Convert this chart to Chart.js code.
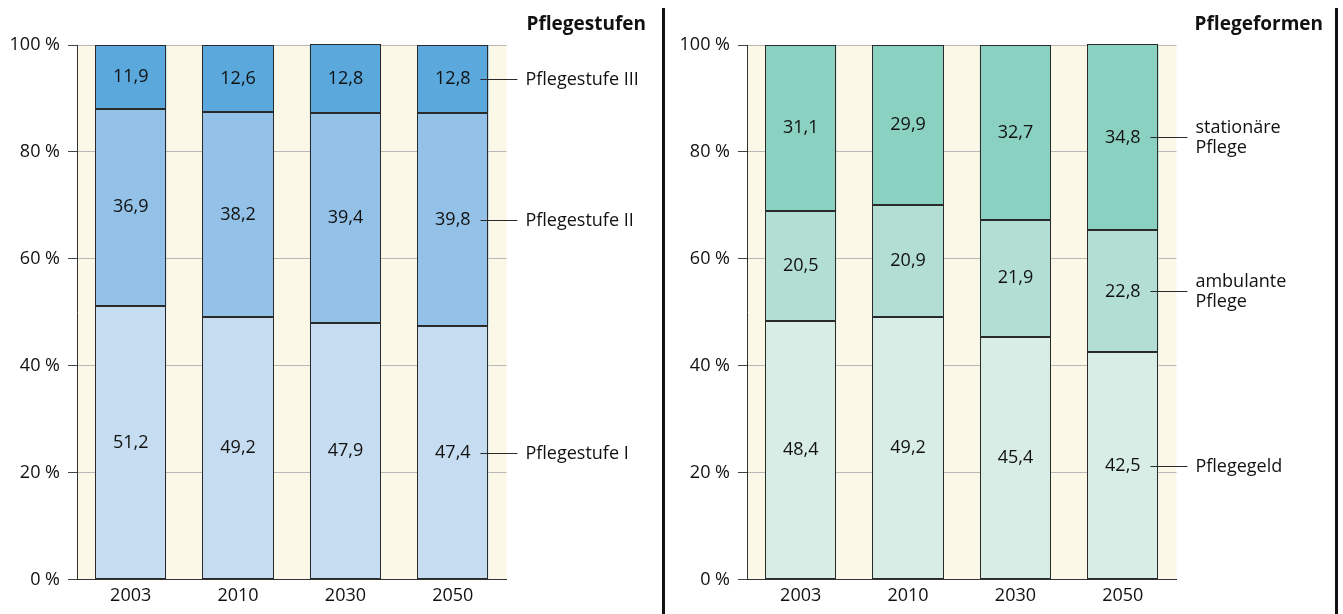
<!DOCTYPE html>
<html>
<head>
<meta charset="utf-8">
<script src="https://cdn.jsdelivr.net/npm/chart.js@4.4.1/dist/chart.umd.min.js"></script>
<style>
  body { margin: 0; background: #fff; }
  #wrap { position: relative; width: 1343px; height: 614px; }
  .box { position: absolute; top: 0; height: 614px; }
  .divider { position: absolute; top: 8px; bottom: 0; width: 3px; background: #111; }
</style>
</head>
<body>
<div id="wrap">
  <div class="box" style="left:0;width:663px"><canvas id="stufen"></canvas></div>
  <div class="box" style="left:663px;width:680px"><canvas id="formen"></canvas></div>
  <div class="divider" style="left:662px"></div>
  <div class="divider" style="left:1335px"></div>
</div>
<script>
// data
const years = ['2003', '2010', '2030', '2050'];

const stufeI = [51.2, 49.2, 47.9, 47.4];
const stufeII = [36.9, 38.2, 39.4, 39.8];
const stufeIII = [11.9, 12.6, 12.8, 12.8];
const stufenNames = [['Pflegestufe I'], ['Pflegestufe II'], ['Pflegestufe III']];

const pflegegeld = [48.4, 49.2, 45.4, 42.5];
const ambulant = [20.5, 20.9, 21.9, 22.8];
const stationaer = [31.1, 29.9, 32.7, 34.8];
const formenNames = [['Pflegegeld'], ['ambulante', 'Pflege'], ['stationäre', 'Pflege']];

const FONT = '"Open Sans", "Noto Sans", sans-serif';

// cream plot background
const creamBg = {
    id: 'creamBg',
    beforeDraw(chart) {
        const a = chart.chartArea, c = chart.ctx;
        c.save();
        c.fillStyle = '#fcf8e8';
        c.fillRect(a.left, a.top, a.right - a.left, a.bottom - a.top);
        c.restore();
    }
};

// crisp outlines, numbers inside the segments, series names on the right, title
const labels = {
    id: 'labels',
    afterDatasetsDraw(chart, args, opts) {
        const c = chart.ctx;
        c.save();
        c.strokeStyle = '#2a2a2a';
        c.lineWidth = 1;
        chart.data.datasets.forEach((ds, i) => {
            chart.getDatasetMeta(i).data.forEach((bar) => {
                const l = Math.round(bar.x - bar.width / 2) + 0.5;
                const r = Math.round(bar.x + bar.width / 2) - 0.5;
                const t = Math.round(bar.y) + 0.5;
                const b = Math.round(bar.base) - 0.5;
                c.strokeRect(l, t, r - l, b - t);
            });
        });
        c.font = '18px ' + FONT;
        c.fillStyle = '#111';
        c.textBaseline = 'middle';
        chart.data.datasets.forEach((ds, i) => {
            const meta = chart.getDatasetMeta(i);
            meta.data.forEach((bar, j) => {
                const y = (bar.y + bar.base) / 2;
                c.textAlign = 'center';
                c.fillText(ds.data[j].toFixed(1).replace('.', ','), bar.x, y);
            });
            const last = meta.data[meta.data.length - 1];
            const right = last.x + last.width / 2;
            const y = Math.round((last.y + last.base) / 2) + 0.5;
            c.beginPath();
            c.moveTo(right - 8, y);
            c.lineTo(right + 29, y);
            c.stroke();
            c.textAlign = 'left';
            const lines = opts.names[i];
            lines.forEach((t, k) => {
                c.fillText(t, right + 37, y + (k - (lines.length - 1) / 2) * 20);
            });
        });
        c.font = 'bold 19px ' + FONT;
        c.textAlign = 'right';
        c.fillText(opts.title, opts.titleX, 25);
        c.restore();
    }
};

function makeChart(id, sets, colors, names, title, titleX, padRight, yWidth) {
    const ctx = document.getElementById(id).getContext('2d');
    return new Chart(ctx, {
        type: 'bar',
        data: {
            labels: years,
            datasets: sets.map((d, i) => ({
                data: d,
                backgroundColor: colors[i],
                borderWidth: 0,
                categoryPercentage: 1,
                barPercentage: 0.663
            }))
        },
        options: {
            responsive: true,
            maintainAspectRatio: false,
            animation: false,
            layout: { padding: { top: 45, right: padRight, left: 0, bottom: 0 } },
            plugins: {
                legend: { display: false },
                tooltip: { enabled: false },
                labels: { names: names, title: title, titleX: titleX }
            },
            scales: {
                x: {
                    stacked: true,
                    grid: { display: false, drawTicks: false },
                    border: { display: true, color: '#333', width: 1 },
                    ticks: { color: '#111', font: { family: FONT, size: 18 }, padding: 6 },
                    afterFit(s) { s.height = 34.5; }
                },
                y: {
                    stacked: true,
                    min: 0,
                    max: 100,
                    grid: {
                        color: (c) => c.tick && c.tick.value === 0 ? '#333' : '#b8b8b8',
                        tickColor: '#444',
                        tickLength: 9,
                        lineWidth: 1
                    },
                    border: { display: true, color: '#333', width: 1 },
                    ticks: {
                        stepSize: 20,
                        color: '#111',
                        padding: 8,
                        font: { family: FONT, size: 18 },
                        callback: (v) => v + ' %'
                    },
                    afterFit(s) { s.width = yWidth; }
                }
            }
        },
        plugins: [creamBg, labels]
    });
}

makeChart('stufen', [stufeI, stufeII, stufeIII],
    ['#c6ddf1', '#93c1e7', '#5aa8dc'],
    stufenNames, 'Pflegestufen', 646, 156.5, 77);

makeChart('formen', [pflegegeld, ambulant, stationaer],
    ['#d8ede6', '#b3ded3', '#8ad1c1'],
    formenNames, 'Pflegeformen', 660, 166.5, 84);
</script>
</body>
</html>
